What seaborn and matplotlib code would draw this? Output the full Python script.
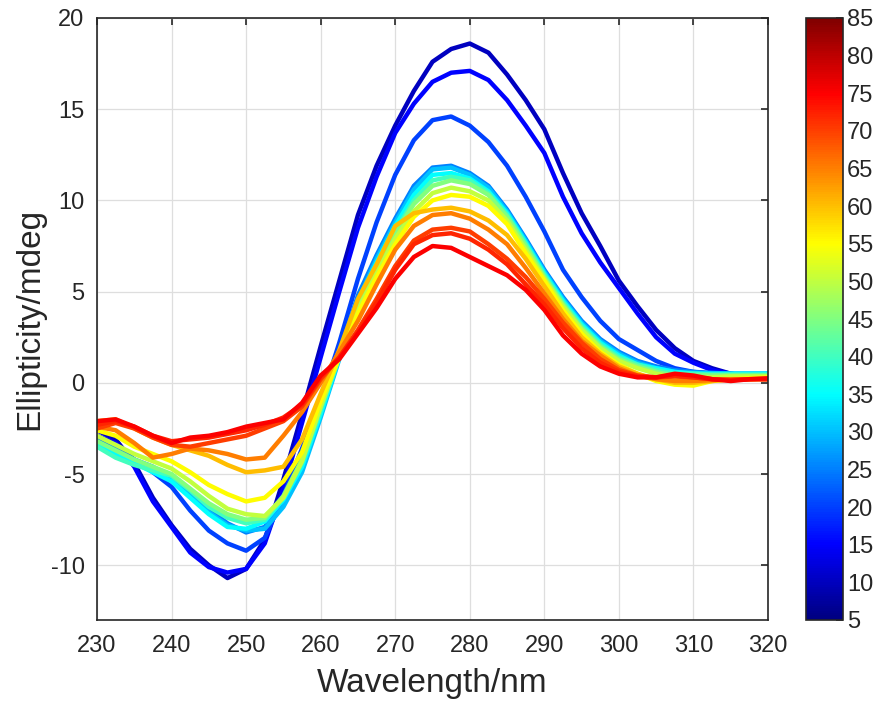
import matplotlib
matplotlib.use("Agg")
import matplotlib.pyplot as plt
import numpy as np
import pandas as pd
import seaborn as sns
from matplotlib.colors import Normalize, LinearSegmentedColormap
from matplotlib.cm import ScalarMappable

# ---------------- data ----------------
wavelength = [230.0, 232.5, 235.0, 237.5, 240.0, 242.5, 245.0, 247.5, 250.0, 252.5,
              255.0, 257.5, 260.0, 262.5, 265.0, 267.5, 270.0, 272.5, 275.0, 277.5,
              280.0, 282.5, 285.0, 287.5, 290.0, 292.5, 295.0, 297.5, 300.0, 302.5,
              305.0, 307.5, 310.0, 312.5, 315.0, 317.5, 320.0]

temperatures = [10, 15, 20, 25, 30, 35, 40, 45, 50, 55, 60, 65, 70, 72, 75]

t10 = [-2.6, -3.1, -4.4, -6.3, -7.8, -9.1, -10.0, -10.7, -10.2, -8.6, -5.3, -1.7, 2.0, 5.6, 9.2, 11.9, 14.1, 16.0, 17.6, 18.3,
       18.6, 18.1, 16.9, 15.5, 13.9, 11.5, 9.3, 7.5, 5.6, 4.2, 2.9, 1.9, 1.2, 0.8, 0.5, 0.35, 0.3]
t15 = [-2.9, -3.3, -4.6, -6.5, -7.9, -9.3, -10.1, -10.4, -10.2, -8.8, -5.8, -2.2, 1.4, 5.0, 8.5, 11.3, 13.7, 15.3, 16.5, 17.0,
       17.1, 16.6, 15.5, 14.1, 12.6, 10.2, 8.2, 6.6, 5.2, 3.8, 2.5, 1.6, 1.1, 0.7, 0.5, 0.35, 0.3]
t20 = [-3.0, -3.4, -4.2, -4.9, -5.7, -7.0, -8.1, -8.8, -9.2, -8.5, -6.2, -3.6, -1.0, 2.2, 5.7, 8.8, 11.4, 13.3, 14.4, 14.6,
       14.1, 13.2, 11.9, 10.2, 8.3, 6.2, 4.7, 3.4, 2.4, 1.8, 1.2, 0.8, 0.6, 0.5, 0.4, 0.4, 0.4]
t25 = [-3.1, -3.6, -4.2, -4.6, -5.2, -6.0, -6.9, -7.7, -8.2, -7.9, -6.5, -4.6, -1.6, 1.6, 4.8, 7.0, 9.0, 10.8, 11.8, 11.9,
       11.5, 10.8, 9.5, 7.9, 6.2, 4.7, 3.4, 2.4, 1.7, 1.2, 0.9, 0.7, 0.6, 0.55, 0.5, 0.5, 0.5]
t30 = [-3.3, -3.8, -4.3, -4.8, -5.3, -6.2, -7.1, -7.8, -8.1, -8.0, -6.8, -4.9, -1.9, 1.3, 4.5, 6.8, 8.8, 10.6, 11.7, 11.8,
       11.4, 10.7, 9.4, 7.8, 6.1, 4.6, 3.3, 2.3, 1.6, 1.1, 0.8, 0.6, 0.55, 0.5, 0.5, 0.5, 0.5]
t35 = [-3.4, -3.9, -4.4, -4.9, -5.4, -6.3, -7.2, -7.9, -8.0, -7.6, -6.4, -4.6, -1.7, 1.4, 4.4, 6.6, 8.6, 10.3, 11.4, 11.5,
       11.2, 10.5, 9.3, 7.7, 6.0, 4.5, 3.2, 2.2, 1.5, 1.0, 0.8, 0.6, 0.5, 0.5, 0.5, 0.5, 0.5]
t40 = [-3.5, -4.1, -4.5, -4.8, -5.1, -5.9, -6.8, -7.4, -7.7, -7.5, -6.3, -4.4, -1.5, 1.5, 4.3, 6.4, 8.3, 10.0, 11.1, 11.3,
       11.1, 10.4, 9.2, 7.6, 5.9, 4.4, 3.1, 2.1, 1.4, 1.0, 0.7, 0.5, 0.5, 0.45, 0.45, 0.45, 0.45]
t45 = [-3.2, -3.7, -4.2, -4.6, -5.0, -5.8, -6.6, -7.2, -7.5, -7.4, -6.2, -4.2, -1.3, 1.5, 4.2, 6.3, 8.2, 9.8, 10.8, 11.1,
       10.9, 10.3, 9.1, 7.5, 5.8, 4.3, 3.0, 2.0, 1.3, 0.9, 0.6, 0.4, 0.4, 0.4, 0.4, 0.4, 0.4]
t50 = [-2.9, -3.4, -3.9, -4.3, -4.7, -5.4, -6.2, -6.9, -7.2, -7.3, -6.3, -4.3, -1.3, 1.4, 4.0, 6.0, 7.9, 9.4, 10.4, 10.7,
       10.5, 10.0, 8.9, 7.3, 5.7, 4.2, 2.9, 1.9, 1.2, 0.8, 0.5, 0.3, 0.3, 0.3, 0.35, 0.35, 0.35]
t55 = [-2.6, -2.9, -3.5, -3.9, -4.3, -4.9, -5.6, -6.1, -6.5, -6.3, -5.4, -3.8, -1.0, 1.4, 3.8, 5.8, 7.6, 9.1, 10.0, 10.3,
       10.2, 9.7, 8.7, 7.1, 5.6, 4.0, 2.7, 1.7, 1.0, 0.5, 0.1, -0.1, -0.15, 0.1, 0.2, 0.25, 0.3]
t60 = [-2.1, -2.0, -2.5, -3.0, -3.4, -3.7, -4.0, -4.5, -4.9, -4.8, -4.6, -3.1, -0.6, 1.8, 4.6, 6.5, 8.6, 9.3, 9.5, 9.6,
       9.4, 8.9, 8.1, 6.8, 5.3, 3.8, 2.5, 1.6, 0.9, 0.5, 0.2, 0.0, 0.0, 0.1, 0.2, 0.2, 0.25]
t65 = [-2.4, -2.6, -3.3, -4.1, -3.9, -3.6, -3.7, -3.9, -4.2, -4.1, -2.9, -1.6, 0.0, 1.7, 3.4, 5.4, 7.3, 8.6, 9.2, 9.3,
       9.0, 8.4, 7.6, 6.3, 4.9, 3.5, 2.3, 1.5, 0.8, 0.4, 0.2, 0.1, 0.1, 0.15, 0.2, 0.2, 0.2]
t70 = [-2.5, -2.2, -2.5, -3.0, -3.4, -3.5, -3.3, -3.1, -2.9, -2.5, -2.1, -1.3, 0.2, 1.4, 2.9, 4.6, 6.4, 7.8, 8.4, 8.5,
       8.3, 7.6, 6.8, 5.8, 4.6, 3.3, 2.2, 1.3, 0.7, 0.4, 0.3, 0.35, 0.3, 0.2, 0.15, 0.2, 0.2]
t72 = [-2.3, -2.1, -2.4, -2.9, -3.2, -3.1, -3.0, -2.8, -2.6, -2.3, -1.9, -1.2, 0.3, 1.4, 2.8, 4.4, 6.2, 7.6, 8.1, 8.2,
       7.9, 7.3, 6.5, 5.4, 4.3, 3.0, 1.9, 1.1, 0.6, 0.35, 0.3, 0.4, 0.3, 0.2, 0.15, 0.2, 0.2]
t75 = [-2.1, -2.0, -2.4, -2.9, -3.3, -3.0, -2.9, -2.7, -2.4, -2.2, -2.0, -1.1, 0.4, 1.3, 2.7, 4.1, 5.7, 6.9, 7.5, 7.4,
       6.9, 6.4, 5.9, 5.1, 4.0, 2.6, 1.6, 0.9, 0.5, 0.3, 0.3, 0.5, 0.4, 0.2, 0.1, 0.2, 0.25]

curves = [t10, t15, t20, t25, t30, t35, t40, t45, t50, t55, t60, t65, t70, t72, t75]

colorbar_ticks = [5, 10, 15, 20, 25, 30, 35, 40, 45, 50, 55, 60, 65, 70, 75, 80, 85]
x_ticks = [230, 240, 250, 260, 270, 280, 290, 300, 310, 320]
y_ticks = [-10, -5, 0, 5, 10, 15, 20]

# ---------------- long-form table ----------------
rows = []
for temp, vals in zip(temperatures, curves):
    for wl, v in zip(wavelength, vals):
        rows.append({"wavelength": wl, "ellipticity": v, "temperature": temp})
df = pd.DataFrame(rows)

# ---------------- style ----------------
sns.set_style("white")
plt.rcParams["font.family"] = ["Liberation Sans", "DejaVu Sans"]
plt.rcParams["axes.unicode_minus"] = False

# MATLAB-style jet colormap
jet = LinearSegmentedColormap.from_list(
    "matlab_jet",
    [(0.0, (0.0, 0.0, 0.5)), (0.125, (0.0, 0.0, 1.0)), (0.375, (0.0, 1.0, 1.0)),
     (0.625, (1.0, 1.0, 0.0)), (0.875, (1.0, 0.0, 0.0)), (1.0, (0.5, 0.0, 0.0))],
    N=256)

dark = "#262626"
fig = plt.figure(figsize=(8.82, 7.06), dpi=100)
ax = fig.add_axes([97 / 882, 1 - 620 / 706, (768 - 97) / 882, (620 - 18) / 706])
cax = fig.add_axes([806 / 882, 1 - 620 / 706, 37 / 882, (620 - 18) / 706])

sns.lineplot(data=df, x="wavelength", y="ellipticity", hue="temperature",
             palette=jet, hue_norm=Normalize(5, 85), linewidth=3.2, legend=False,
             errorbar=None, sort=False, ax=ax)

ax.set_xlim(230, 320)
ax.set_ylim(-13, 20)
ax.set_xticks(x_ticks)
ax.set_yticks(y_ticks)
ax.grid(True, color="#dedede", linewidth=0.9)
ax.set_axisbelow(True)
for s in ax.spines.values():
    s.set_color(dark)
    s.set_linewidth(1.2)
ax.tick_params(direction="in", length=5, width=1.2, top=True, right=True,
               labelsize=17, colors=dark)
ax.tick_params(axis="x", pad=11)
ax.tick_params(axis="y", pad=9)
ax.set_xlabel("Wavelength/nm", fontsize=24, color=dark, labelpad=8)
ax.set_ylabel("Ellipticity/mdeg", fontsize=24, color=dark, labelpad=4)

sm = ScalarMappable(norm=Normalize(5, 85), cmap=jet)
cb = fig.colorbar(sm, cax=cax, ticks=colorbar_ticks)
cb.outline.set_edgecolor(dark)
cb.outline.set_linewidth(1.2)
cax.tick_params(direction="in", length=5, width=1.2, labelsize=17, colors=dark, pad=3)

fig.savefig("out.png", dpi=100)
